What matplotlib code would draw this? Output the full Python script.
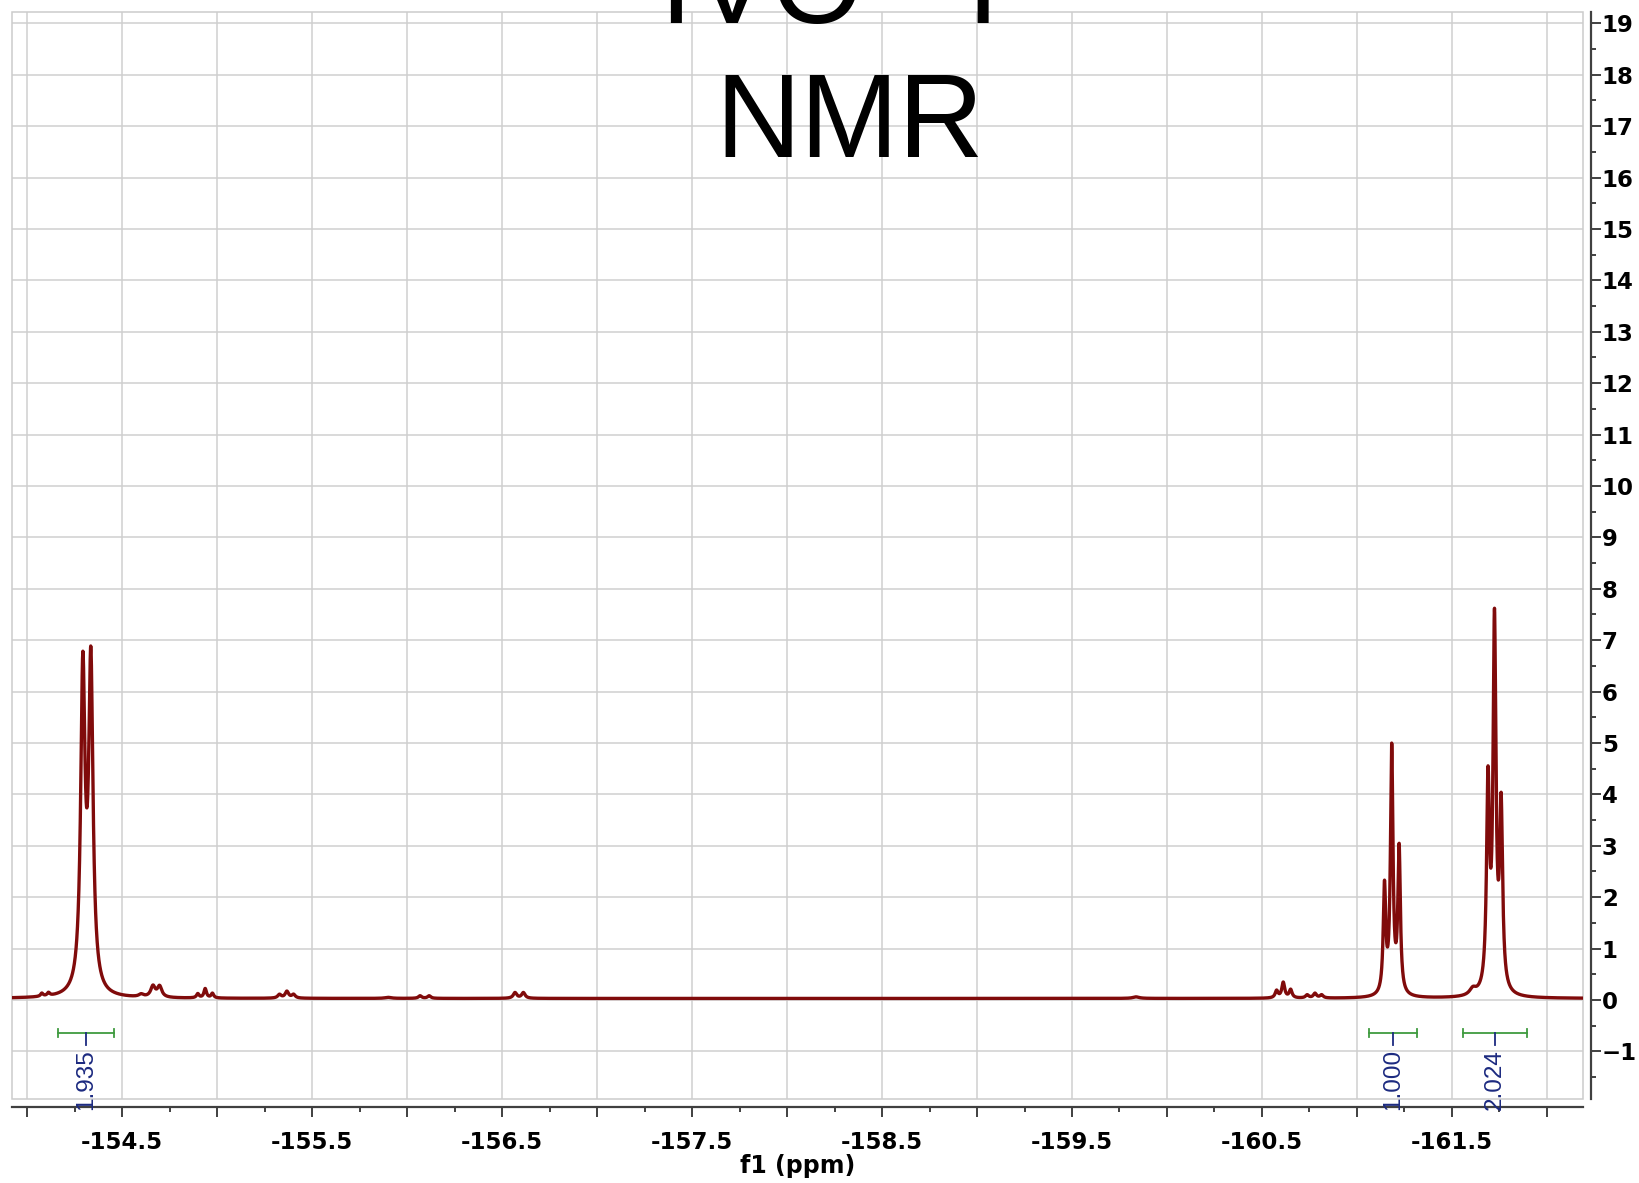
import numpy as np
import matplotlib
matplotlib.use('Agg')
import matplotlib.pyplot as plt
from matplotlib.patches import Rectangle
from matplotlib.ticker import FixedLocator, MultipleLocator, FuncFormatter

# peak list: shift (ppm), height, half width (ppm)
peak_ppm = [-154.077, -154.112, -154.293, -154.335,
            -154.600, -154.662, -154.697,
            -154.898, -154.937, -154.975,
            -155.328, -155.367, -155.402,
            -155.900, -156.068, -156.116, -156.568, -156.612,
            -159.837,
            -160.577, -160.612, -160.651, -160.738, -160.779, -160.814,
            -161.145, -161.183, -161.222,
            -161.610, -161.690, -161.724, -161.759]
peak_height = [0.06, 0.06, 6.15, 6.26,
               0.05, 0.21, 0.21,
               0.08, 0.18, 0.09,
               0.07, 0.13, 0.07,
               0.02, 0.05, 0.05, 0.11, 0.11,
               0.03,
               0.14, 0.30, 0.16, 0.06, 0.09, 0.06,
               2.07, 4.77, 2.81,
               0.12, 3.97, 7.09, 3.48]
peak_width = [0.008, 0.008, 0.0137, 0.0137,
              0.015, 0.014, 0.014,
              0.008, 0.008, 0.008,
              0.011, 0.011, 0.011,
              0.020, 0.010, 0.010, 0.011, 0.011,
              0.020,
              0.009, 0.009, 0.009, 0.010, 0.010, 0.010,
              0.0079, 0.0079, 0.0079,
              0.020, 0.0092, 0.0092, 0.0092]
baseline = 0.03

integral_from = [-154.160, -161.063, -161.556]
integral_to = [-154.458, -161.317, -161.895]
integral_labels = ['1.935', '1.000', '2.024']

x_lim = (-153.92, -162.19)
y_lim = (-1.926, 19.22)

ppm = np.linspace(x_lim[0], x_lim[1], 9000)
spec = np.full_like(ppm, baseline)
for c, h, g in zip(peak_ppm, peak_height, peak_width):
    spec += h / (1 + ((ppm - c) / g) ** 2)

W, H = 1639, 1183
fig = plt.figure(figsize=(W / 100, H / 100), dpi=100)
ax = fig.add_axes([12 / W, 84 / H, 1571 / W, 1087 / H])

ax.plot(ppm, spec, color='#800b0b', lw=2.4, zorder=3)

for a, b, lab in zip(integral_from, integral_to, integral_labels):
    mid = (a + b) / 2
    ax.plot([a, b], [-0.64, -0.64], color='#3f9b3f', lw=1.3, zorder=3)
    ax.plot([a, a], [-0.56, -0.72], color='#3f9b3f', lw=1.3, zorder=3)
    ax.plot([b, b], [-0.56, -0.72], color='#3f9b3f', lw=1.3, zorder=3)
    ax.plot([mid, mid], [-0.64, -0.88], color='#1c2a80', lw=1.3, zorder=3)
    ax.text(mid, -0.95, lab, rotation=90, ha='center', va='top', fontsize=17.5,
            family='Liberation Sans', color='#1c2a80', zorder=4)

ax.set_xlim(*x_lim)
ax.set_ylim(*y_lim)

ax.xaxis.set_major_locator(FixedLocator(np.arange(-154.0, -162.01, -0.5)))
ax.xaxis.set_minor_locator(MultipleLocator(0.25))
ax.xaxis.set_major_formatter(FuncFormatter(lambda v, p: '%.1f' % v if round(v * 2) % 2 == 1 else ''))
ax.yaxis.tick_right()
ax.yaxis.set_major_locator(FixedLocator(range(-1, 20)))
ax.yaxis.set_minor_locator(MultipleLocator(0.5))

ax.grid(True, which='major', color='#cfcfcf', lw=1.1)
ax.set_axisbelow(True)

for s in ['top', 'left']:
    ax.spines[s].set_visible(False)
for s in ['bottom', 'right']:
    ax.spines[s].set_position(('outward', 5.76))
    ax.spines[s].set_color('#404040')
    ax.spines[s].set_linewidth(1.6)
ax.add_patch(Rectangle((0, 0), 1, 1, transform=ax.transAxes, fill=False,
                       ec='#cccccc', lw=1.1, clip_on=False, zorder=1))

ax.tick_params(axis='both', which='major', direction='out', length=7, width=1.4,
               color='#404040', labelsize=16.5)
ax.tick_params(axis='both', which='minor', direction='out', length=3.6, width=1.4,
               color='#404040')
ax.tick_params(axis='x', which='major', pad=10)
ax.tick_params(axis='y', which='major', pad=0.8)
for t in ax.get_xticklabels() + ax.get_yticklabels():
    t.set_fontweight('bold')

ax.set_xlabel('f1 (ppm)', fontsize=17, fontweight='bold', labelpad=0.5)

fig.text(850 / W, 1 - 23 / H, 'IVO - F', ha='center', va='baseline', fontsize=85,
         family='Liberation Sans')
fig.text(850 / W, 1 - 157 / H, 'NMR', ha='center', va='baseline', fontsize=85,
         family='Liberation Sans')

plt.savefig('out.png', dpi=100)
